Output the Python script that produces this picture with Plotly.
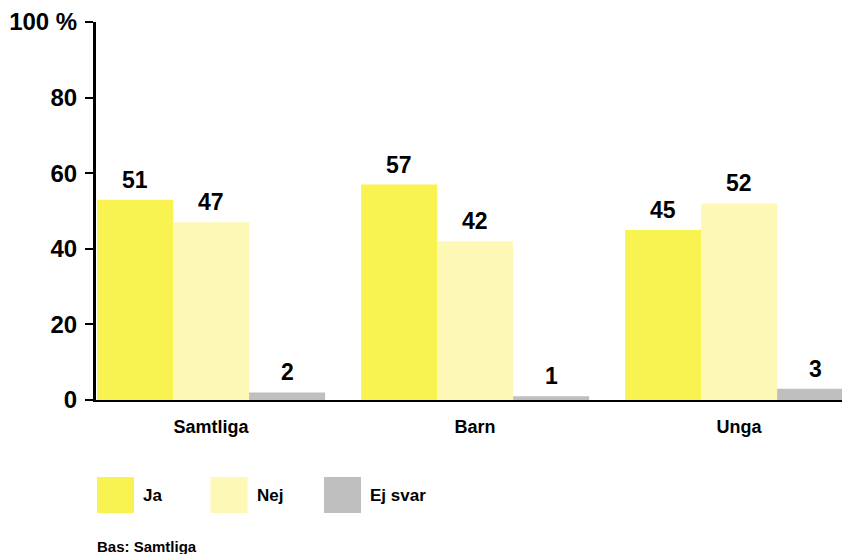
import plotly.graph_objects as go

categories = ["Samtliga", "Barn", "Unga"]
series_names = ["Ja", "Nej", "Ej svar"]
# bar heights as drawn in the picture
ja_values = [53, 57, 45]
nej_values = [47, 42, 52]
ejsvar_values = [2, 1, 3]
# printed value labels
ja_labels = ["51", "57", "45"]
nej_labels = ["47", "42", "52"]
ejsvar_labels = ["2", "1", "3"]
y_ticks = [0, 20, 40, 60, 80, 100]
y_ticktext = ["0", "20", "40", "60", "80", "100 %"]

colors = ["#f9f352", "#fdf8b6", "#bfbfbf"]
FONT = "Liberation Sans, Arial, sans-serif"

W, H = 842, 554
L, R, T, B = 96, 0, 22, 154
PX_PER_CAT = 264

fig = go.Figure()
x = list(range(len(categories)))
all_vals = [ja_values, nej_values, ejsvar_values]
all_labels = [ja_labels, nej_labels, ejsvar_labels]
for name, vals, col in zip(series_names, all_vals, colors):
    fig.add_trace(go.Bar(x=x, y=vals, name=name, marker_color=col,
                         marker_line_width=0, showlegend=False, hoverinfo="skip"))

bargap = 0.136
group_w = 1 - bargap
bar_w = group_w / 3
for s, (vals, labels) in enumerate(zip(all_vals, all_labels)):
    for i, (v, t) in enumerate(zip(vals, labels)):
        fig.add_annotation(x=i - group_w / 2 + bar_w * (s + 0.5), y=v, text=t,
                           showarrow=False, yanchor="bottom", yshift=5,
                           font=dict(family=FONT, size=23, color="black", weight=700))

# legend drawn as big squares + labels (positions in page pixels)
plot_w = W - L - R
plot_h = H - T - B
def px_x(p):
    return (p - L) / plot_w
def px_y(p):
    return (H - B - p) / plot_h

for k, (name, col) in enumerate(zip(series_names, colors)):
    x0 = 97 + k * 113.5
    fig.add_shape(type="rect", xref="paper", yref="paper",
                  x0=px_x(x0), x1=px_x(x0 + 37), y0=px_y(513), y1=px_y(477),
                  fillcolor=col, line_width=0)
    fig.add_annotation(xref="paper", yref="paper", x=px_x(x0 + 44), y=px_y(495),
                       text=name, showarrow=False, xanchor="left", yanchor="middle",
                       font=dict(family=FONT, size=17, color="black", weight=700))

fig.add_annotation(xref="paper", yref="paper", x=px_x(95), y=px_y(546),
                   text="Bas: Samtliga", showarrow=False, xanchor="left", yanchor="middle",
                   font=dict(family=FONT, size=15, color="black", weight=700))

x_start = -group_w / 2 - 0.004
fig.update_layout(
    width=W, height=H,
    margin=dict(l=L, r=R, t=T, b=B),
    plot_bgcolor="white", paper_bgcolor="white",
    barmode="group", bargap=bargap, bargroupgap=0,
    xaxis=dict(range=[x_start, x_start + plot_w / PX_PER_CAT], tickvals=x, ticktext=categories,
               showgrid=False, zeroline=False, showline=True, linecolor="black",
               linewidth=2, ticks="", ticklabelstandoff=9,
               tickfont=dict(family=FONT, size=18, color="black", weight=700)),
    yaxis=dict(range=[0, 100], tickvals=y_ticks, ticktext=y_ticktext,
               showgrid=False, zeroline=False, showline=True, linecolor="black",
               linewidth=3, ticks="outside", ticklen=8, tickwidth=2, tickcolor="black",
               ticklabelstandoff=3,
               tickfont=dict(family=FONT, size=24, color="black", weight=700)),
)

# drop the default page margin so the figure fills the window exactly
fig.write_html("out.html", config={"displayModeBar": False},
               post_script="document.body.style.margin='0';")
